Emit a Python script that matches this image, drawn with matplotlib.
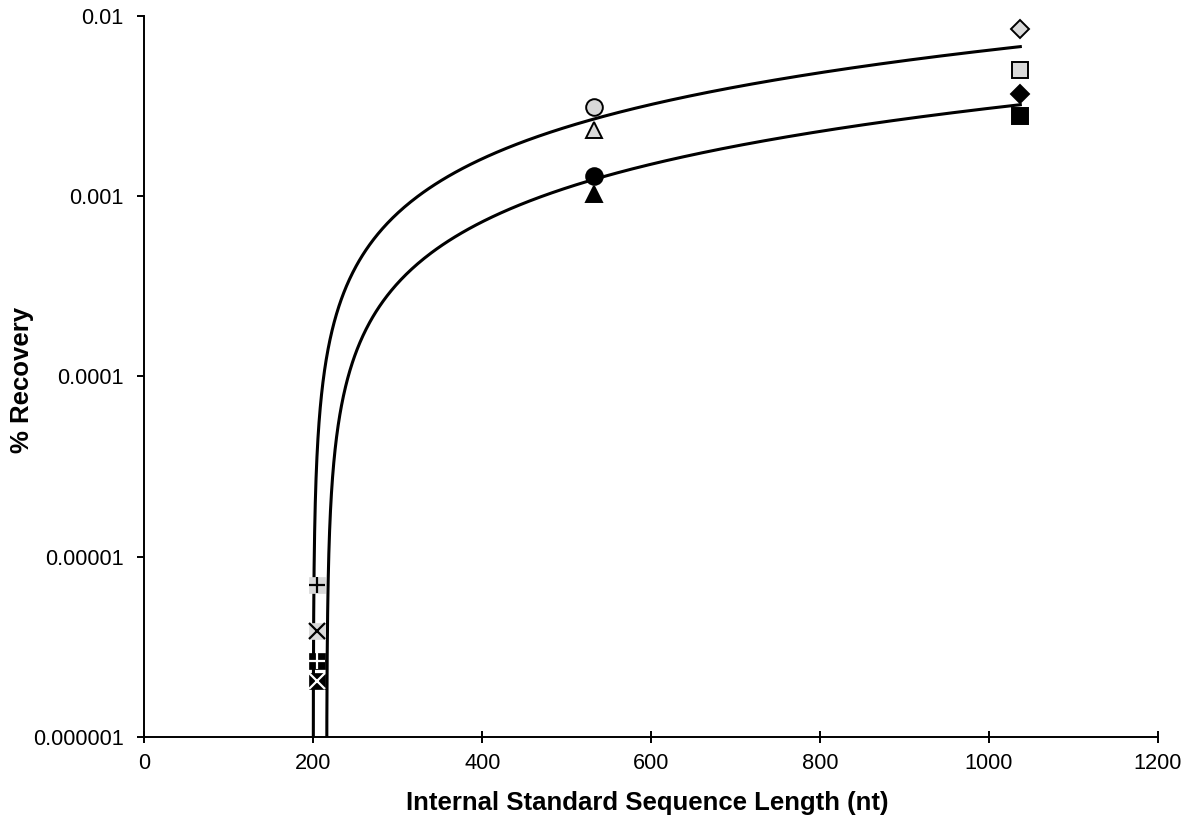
import numpy as np
import matplotlib
matplotlib.use("Agg")
from matplotlib import pyplot as plt

plt.rcParams["font.family"] = ["Liberation Sans", "DejaVu Sans"]

# internal standard lengths (nt)
len_short = 204.3
len_mid = 532.4
len_long = 1037.3

# % recovery, light grey samples
grey_circle = 0.00313
grey_triangle = 0.00232
grey_diamond = 0.00846
grey_square = 0.00497
grey_plus = 6.98e-6
grey_cross = 3.88e-6

# % recovery, black samples
black_circle = 0.00129
black_triangle = 0.00103
black_diamond = 0.00370
black_square = 0.00278
black_plus = 2.64e-6
black_cross = 2.05e-6

GREY = "#d9d9d9"

fig = plt.figure(figsize=(11.93, 8.24), dpi=100)
ax = fig.add_axes([0.1211, 0.1052, 0.9704 - 0.1211, 0.981 - 0.1052])


def boxed_marker(x, y, fill, sym):
    # square background with a + or x drawn on top of it
    ax.plot([x], [y], marker="s", ms=12, mfc=fill, mec=fill, mew=0.5,
            ls="none", zorder=6)
    ax.plot([x], [y], marker=sym, ms=11.5, mec="white" if fill == "black" else "black",
            mew=1.6, ls="none", zorder=7)


def mark(x, y, m, fill, ms):
    ax.plot([x], [y], marker=m, ms=ms, mfc=fill, mec="black", mew=1.4,
            ls="none", zorder=3)


mark(len_mid, grey_circle, "o", GREY, 12)
mark(len_mid, grey_triangle, "^", GREY, 12)
mark(len_long, grey_diamond, "D", GREY, 9.5)
mark(len_long, grey_square, "s", GREY, 12)
boxed_marker(len_short, grey_plus, GREY, "+")
boxed_marker(len_short, grey_cross, GREY, "x")

mark(len_mid, black_circle, "o", "black", 12)
mark(len_mid, black_triangle, "^", "black", 12)
mark(len_long, black_diamond, "D", "black", 9.5)
mark(len_long, black_square, "s", "black", 12)
boxed_marker(len_short, black_plus, "black", "+")
boxed_marker(len_short, black_cross, "black", "x")

# linear trendlines through each sample group, shown on the log axis
xs = np.repeat([len_short, len_mid, len_long], 2)
groups = [
    [grey_plus, grey_cross, grey_circle, grey_triangle, grey_diamond, grey_square],
    [black_plus, black_cross, black_circle, black_triangle, black_diamond, black_square],
]
for ys in groups:
    a, b = np.polyfit(xs, ys, 1)
    root = -b / a
    xt = root + np.geomspace(1e-3, len_long - root, 800)
    ax.plot(xt, a * xt + b, color="black", lw=2.2, zorder=5)

ax.set_yscale("log")
ax.set_xlim(0, 1200)
ax.set_ylim(1e-6, 1e-2)
ax.set_xticks(range(0, 1201, 200))
ax.set_yticks([1e-6, 1e-5, 1e-4, 1e-3, 1e-2])
ax.set_yticklabels(["0.000001", "0.00001", "0.0001", "0.001", "0.01"])
ax.minorticks_off()

for side in ("top", "right"):
    ax.spines[side].set_visible(False)
for side in ("left", "bottom"):
    ax.spines[side].set_linewidth(1.4)

ax.tick_params(axis="x", direction="inout", length=9, width=1.4, pad=7, labelsize=15.7)
ax.tick_params(axis="y", direction="out", length=5, width=1.4, pad=10, labelsize=15.7)

fig.text(647 / 1193, 1 - 803 / 824, "Internal Standard Sequence Length (nt)",
         fontsize=18.5, fontweight="bold", ha="center", va="center")
fig.text(22 / 1193, 1 - 380 / 824, "% Recovery", fontsize=18.5, fontweight="bold",
         rotation=90, ha="center", va="center")

fig.savefig("out.png", dpi=100)
